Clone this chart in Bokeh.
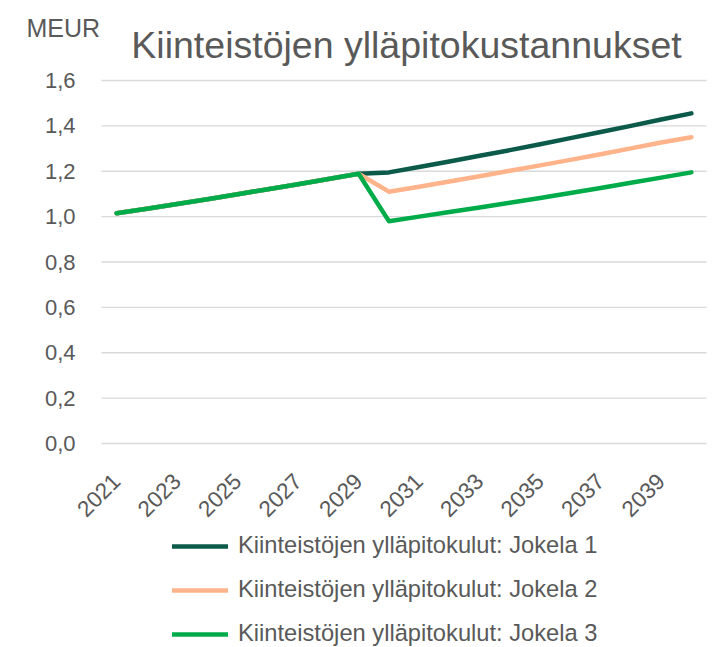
import math
from bokeh.plotting import figure
from bokeh.models import (FixedTicker, CustomJSTickFormatter, Legend, LegendItem,
                          Label, Range1d, ColumnDataSource)
from bokeh.embed import file_html
from bokeh.resources import INLINE

years = list(range(2021, 2041))
jokela1 = [1.015, 1.035, 1.056, 1.077, 1.099, 1.121, 1.143, 1.166, 1.189,
           1.195, 1.219, 1.243, 1.268, 1.293, 1.319, 1.346, 1.373, 1.400, 1.428, 1.455]
jokela2 = [1.015, 1.035, 1.056, 1.077, 1.099, 1.121, 1.143, 1.166, 1.189,
           1.110, 1.132, 1.155, 1.178, 1.202, 1.226, 1.250, 1.275, 1.301, 1.327, 1.350]
jokela3 = [1.015, 1.035, 1.056, 1.077, 1.099, 1.121, 1.143, 1.166, 1.189,
           0.980, 1.000, 1.020, 1.040, 1.061, 1.082, 1.104, 1.126, 1.149, 1.172, 1.195]
series_names = ["Kiinteistöjen ylläpitokulut: Jokela 1",
                "Kiinteistöjen ylläpitokulut: Jokela 2",
                "Kiinteistöjen ylläpitokulut: Jokela 3"]
colors = ["#0B5A4A", "#FFB38A", "#00AC4A"]
y_ticks = [0.0, 0.2, 0.4, 0.6, 0.8, 1.0, 1.2, 1.4, 1.6]
x_ticks = [2021, 2023, 2025, 2027, 2029, 2031, 2033, 2035, 2037, 2039]

FONT = "Liberation Sans"
TXT = "#595959"
W, H = 720, 647
# plot area (inside the canvas): left 101, right 706, top 80, bottom 443
X0, X1 = years[0] - 0.5, years[-1] + 0.5
PX_X = 605 / (X1 - X0)
PX_Y = 363 / (y_ticks[-1] - y_ticks[0])
x_range = Range1d(X0 - 101 / PX_X, X1 + (W - 706) / PX_X)
y_range = Range1d(y_ticks[0] - (H - 443) / PX_Y, y_ticks[-1] + 80 / PX_Y)

p = figure(frame_width=W, frame_height=H, output_backend="svg", toolbar_location=None,
           x_range=x_range, y_range=y_range,
           min_border_left=0, min_border_right=0, min_border_top=0, min_border_bottom=0)
p.outline_line_color = None
p.background_fill_color = "white"
p.xgrid.visible = False
p.ygrid.visible = False

# horizontal gridlines across the plot area
p.segment(x0=[X0] * len(y_ticks), x1=[X1] * len(y_ticks), y0=y_ticks, y1=y_ticks,
          line_color="#D9D9D9", line_width=1.3)

renderers = []
for vals, c in zip([jokela1, jokela2, jokela3], colors):
    src = ColumnDataSource(dict(x=years, y=vals))
    r = p.line("x", "y", source=src, line_color=c, line_width=4.5,
               line_join="round", line_cap="round")
    renderers.append(r)

# axes
p.yaxis.fixed_location = X0
p.yaxis.ticker = FixedTicker(ticks=y_ticks)
p.yaxis.formatter = CustomJSTickFormatter(code="return tick.toFixed(1).replace('.', ',');")
p.yaxis.axis_line_color = None
p.yaxis.major_tick_line_color = None
p.yaxis.minor_tick_line_color = None
p.yaxis.major_label_text_font = FONT
p.yaxis.major_label_text_font_size = "22px"
p.yaxis.major_label_text_color = TXT
p.yaxis.major_label_standoff = 20

p.xaxis.fixed_location = 0
p.xaxis.ticker = FixedTicker(ticks=x_ticks)
p.xaxis.axis_line_color = None
p.xaxis.major_tick_line_color = None
p.xaxis.minor_tick_line_color = None
p.xaxis.major_label_text_font = FONT
p.xaxis.major_label_text_font_size = "22.5px"
p.xaxis.major_label_text_color = TXT
p.xaxis.major_label_orientation = math.pi / 4
p.xaxis.major_label_standoff = 28

# titles
p.add_layout(Label(x=406, y=H - 44, x_units="screen", y_units="screen",
                   text="Kiinteistöjen ylläpitokustannukset", text_align="center",
                   text_baseline="alphabetic", text_font=FONT, text_font_size="37.5px",
                   text_color=TXT))
p.add_layout(Label(x=26, y=H - 27, x_units="screen", y_units="screen",
                   text="MEUR", text_align="left", text_baseline="alphabetic",
                   text_font=FONT, text_font_size="25px", text_color=TXT))

legend = Legend(items=[LegendItem(label=n, renderers=[r]) for n, r in zip(series_names, renderers)],
                orientation="vertical", location=(172, 0))
legend.label_text_font = FONT
legend.label_text_font_size = "23.7px"
legend.label_text_color = TXT
legend.glyph_width = 56
legend.glyph_height = 26
legend.label_height = 26
legend.label_standoff = 10
legend.spacing = 17
legend.border_line_color = None
legend.background_fill_alpha = 0
legend.margin = 0
legend.padding = 0
p.add_layout(legend)

open("out.html", "w").write(file_html(p, INLINE))
